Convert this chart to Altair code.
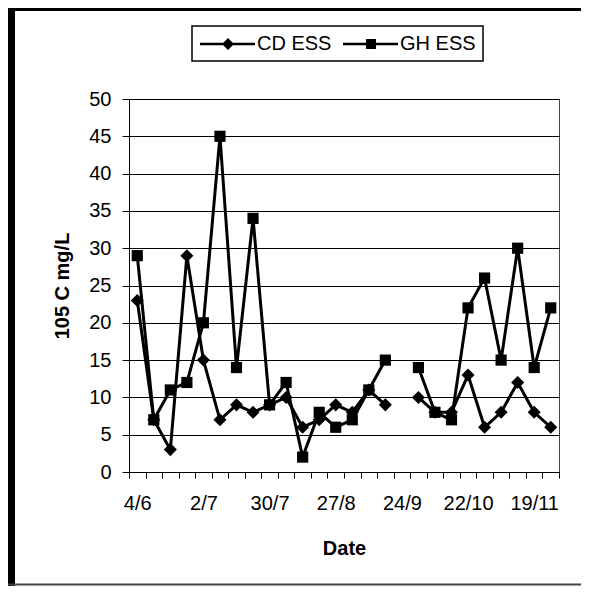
import altair as alt
import pandas as pd
import json

# ---- data ----
dates = ["4/6", "11/6", "18/6", "25/6", "2/7", "9/7", "16/7", "23/7", "30/7", "6/8",
         "13/8", "20/8", "27/8", "3/9", "10/9", "17/9", "24/9", "1/10", "8/10", "15/10",
         "22/10", "29/10", "5/11", "12/11", "19/11", "26/11"]
cd_ess = [23, 7, 3, 29, 15, 7, 9, 8, 9, 10, 6, 7, 9, 8, 11, 9, None, 10, 8, 8, 13, 6, 8, 12, 8, 6]
gh_ess = [29, 7, 11, 12, 20, 45, 14, 34, 9, 12, 2, 8, 6, 7, 11, 15, None, 14, 8, 7, 22, 26, 15, 30, 14, 22]
series_names = ["CD ESS", "GH ESS"]
y_ticks = [0, 5, 10, 15, 20, 25, 30, 35, 40, 45, 50]

rows = []
for name, vals in zip(series_names, [cd_ess, gh_ess]):
    for i, (d, v) in enumerate(zip(dates, vals)):
        rows.append({"idx": i, "date": d, "series": name, "value": v})
df = pd.DataFrame(rows)

n = len(dates)
W, H = 430, 373
PAD_L, PAD_T, PAD_R, PAD_B = 121, 91, 22, 114
FONT = "Liberation Sans"

boundaries = [i - 0.5 for i in range(n + 1)]
label_expr = ("((datum.value + 0.5) % 4 == 0 && datum.value < " + str(n - 1) + ") ? "
              + json.dumps(dates) + "[datum.value + 0.5] : ''")

x_enc = alt.X("idx:Q",
              scale=alt.Scale(domain=[-0.5, n - 0.5], nice=False, zero=False),
              axis=alt.Axis(values=boundaries, labelExpr=label_expr, labelOffset=W / n / 2,
                            labelOverlap=False, labelBound=False, labelFlush=False,
                            grid=False, tickSize=6, tickColor="black", domainColor="black",
                            labelFontSize=20, labelPadding=15, labelColor="black",
                            title="Date", titleFontSize=20, titleFontWeight="bold",
                            titlePadding=25, titleColor="black"))
y_enc = alt.Y("value:Q",
              scale=alt.Scale(domain=[0, 50], nice=False),
              axis=alt.Axis(values=y_ticks, grid=True, gridColor="black", gridWidth=1,
                            labelOverlap=False, tickCount=11,
                            tickSize=7, tickColor="black", domainColor="black",
                            labelFontSize=20, labelPadding=11, labelColor="black",
                            title="105 C mg/L", titleFontSize=20, titleFontWeight="bold",
                            titlePadding=16, titleColor="black"))

base = alt.Chart(df)

lines = base.mark_line(color="black", strokeWidth=3,
                       invalid="break-paths-filter-domains").encode(
    x=x_enc, y=y_enc, detail="series:N")

points = base.mark_point(filled=True, color="black", opacity=1).encode(
    x=x_enc, y=y_enc,
    shape=alt.Shape("series:N",
                    scale=alt.Scale(domain=series_names, range=["diamond", "square"]),
                    legend=None),
    size=alt.Size("series:N",
                  scale=alt.Scale(domain=series_names, range=[170, 125]),
                  legend=None))

# legend-only layer (no marks drawn); symbols = filled line bar + marker
cd_sym = ("M-2.8,-0.12L2.7,-0.12L2.7,0.12L-2.8,0.12Z"
          "M0,-0.6L0.6,0L0,0.6L-0.6,0Z")
gh_sym = ("M-2.8,-0.12L2.7,-0.12L2.7,0.12L-2.8,0.12Z"
          "M-0.5,-0.5L0.5,-0.5L0.5,0.5L-0.5,0.5Z")
legend_layer = base.mark_point(filled=True, color="black", opacity=1).encode(
    x=x_enc, y=y_enc,
    shape=alt.Shape("series:N",
                    scale=alt.Scale(domain=series_names, range=[cd_sym, gh_sym]),
                    legend=alt.Legend(title=None, orient="none", legendX=63, legendY=-73,
                                      direction="horizontal", symbolSize=400,
                                      symbolOffset=18, labelOffset=18,
                                      symbolFillColor="black", columnPadding=8,
                                      labelFontSize=20, labelColor="black",
                                      padding=7, strokeColor="black"))
).transform_filter("false")

frame_data = alt.Data(values=[{}])
left_bar = alt.Chart(frame_data).mark_rule(color="black", strokeWidth=7).encode(
    x=alt.value(-117.5), y=alt.value(-PAD_T), y2=alt.value(H + PAD_B))
top_line = alt.Chart(frame_data).mark_rule(color="black", strokeWidth=3).encode(
    y=alt.value(-89.5), x=alt.value(-PAD_L), x2=alt.value(W + PAD_R))
bottom_line = alt.Chart(frame_data).mark_rule(color="#444444", strokeWidth=2).encode(
    y=alt.value(H + PAD_B - 1.5), x=alt.value(-PAD_L), x2=alt.value(W + PAD_R))

chart = alt.layer(lines, points, legend_layer, left_bar, top_line, bottom_line).resolve_scale(
    shape="independent"
).properties(
    width=W, height=H,
    autosize=alt.AutoSizeParams(type="none"),
    padding={"left": PAD_L, "top": PAD_T, "right": PAD_R, "bottom": PAD_B},
).configure(font=FONT).configure_view(stroke="#444444", strokeWidth=1).configure_legend(
    strokeWidth=1.5)

chart.save("out.html", embed_options={"renderer": "svg", "actions": False})
